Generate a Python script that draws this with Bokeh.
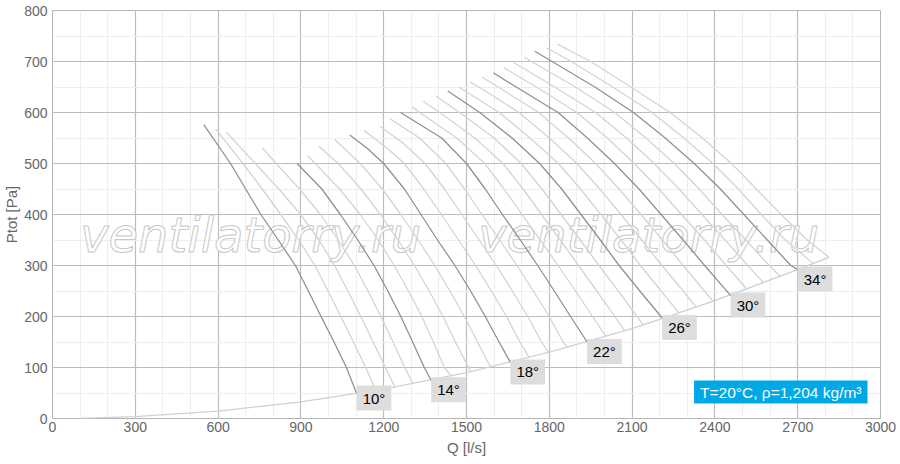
from bokeh.plotting import figure
from bokeh.models import SingleIntervalTicker, Label, ColumnDataSource, Range1d
from bokeh.core.properties import value
from bokeh.embed import file_html
from bokeh.resources import INLINE

# ---- data ----
angles = list(range(10, 37))
labelled_angles = [10, 14, 18, 22, 26, 30, 34]

curve_q = {
    10: [548, 645, 700, 755, 818, 880, 927, 973, 1020, 1065, 1102],
    11: [591, 690, 760, 827, 892, 951, 998, 1045, 1090, 1135, 1172],
    12: [630, 735, 820, 899, 965, 1022, 1070, 1117, 1162, 1206, 1240],
    13: [760, 810, 895, 971, 1035, 1094, 1143, 1190, 1234, 1276, 1306],
    14: [886, 976, 1043, 1106, 1165, 1215, 1262, 1305, 1347, 1372],
    15: [923, 952, 1040, 1115, 1180, 1238, 1290, 1338, 1380, 1420, 1444],
    16: [965, 1035, 1118, 1188, 1252, 1311, 1365, 1415, 1460, 1515],
    17: [1022, 1115, 1195, 1262, 1325, 1385, 1440, 1492, 1540, 1587],
    18: [1077, 1140, 1200, 1275, 1335, 1395, 1458, 1515, 1568, 1618, 1659],
    19: [1128, 1212, 1275, 1345, 1409, 1471, 1533, 1590, 1645, 1693, 1728],
    20: [1186, 1270, 1350, 1420, 1483, 1546, 1608, 1666, 1722, 1772, 1798],
    21: [1222, 1330, 1425, 1493, 1556, 1620, 1683, 1742, 1800, 1850, 1867],
    22: [1261, 1410, 1500, 1568, 1630, 1695, 1758, 1818, 1877, 1937],
    23: [1303, 1330, 1465, 1566, 1636, 1701, 1767, 1832, 1895, 1957, 2005],
    24: [1343, 1403, 1530, 1632, 1705, 1772, 1840, 1906, 1972, 2037, 2073],
    25: [1388, 1475, 1600, 1698, 1773, 1843, 1912, 1980, 2050, 2118, 2141],
    26: [1432, 1548, 1665, 1765, 1845, 1915, 1985, 2053, 2128, 2209],
    27: [1472, 1619, 1730, 1833, 1913, 1987, 2060, 2130, 2205, 2271],
    28: [1512, 1545, 1690, 1800, 1900, 1983, 2060, 2135, 2208, 2285, 2333],
    29: [1557, 1615, 1761, 1870, 1968, 2053, 2132, 2210, 2285, 2362, 2395],
    30: [1597, 1680, 1832, 1938, 2036, 2125, 2205, 2285, 2363, 2457],
    31: [1635, 1753, 1900, 2010, 2108, 2197, 2279, 2362, 2441, 2517],
    32: [1671, 1820, 1968, 2080, 2180, 2270, 2353, 2437, 2519, 2577],
    33: [1710, 1735, 1895, 2037, 2150, 2253, 2343, 2426, 2512, 2597, 2638],
    34: [1747, 1810, 1965, 2105, 2220, 2325, 2420, 2505, 2590, 2675, 2700],
    35: [1789, 1880, 2030, 2172, 2288, 2393, 2485, 2568, 2655, 2756],
    36: [1829, 1950, 2095, 2238, 2355, 2460, 2550, 2640, 2735, 2813],
}
curve_p = {
    10: [576, 500, 450, 400, 350, 300, 250, 200, 150, 100, 49],
    11: [568, 500, 450, 400, 350, 300, 250, 200, 150, 100, 55],
    12: [561, 500, 450, 400, 350, 300, 250, 200, 150, 100, 62],
    13: [531, 500, 450, 400, 350, 300, 250, 200, 150, 100, 68],
    14: [500, 450, 400, 350, 300, 250, 200, 150, 100, 75],
    15: [516, 500, 450, 400, 350, 300, 250, 200, 150, 100, 83],
    16: [534, 500, 450, 400, 350, 300, 250, 200, 150, 92],
    17: [547, 500, 450, 400, 350, 300, 250, 200, 150, 101],
    18: [556, 530, 500, 450, 400, 350, 300, 250, 200, 150, 110],
    19: [565, 530, 500, 450, 400, 350, 300, 250, 200, 150, 119],
    20: [573, 540, 500, 450, 400, 350, 300, 250, 200, 150, 129],
    21: [588, 550, 500, 450, 400, 350, 300, 250, 200, 150, 139],
    22: [600, 550, 500, 450, 400, 350, 300, 250, 200, 150],
    23: [611, 600, 550, 500, 450, 400, 350, 300, 250, 200, 161],
    24: [622, 600, 550, 500, 450, 400, 350, 300, 250, 200, 172],
    25: [633, 600, 550, 500, 450, 400, 350, 300, 250, 200, 183],
    26: [642, 600, 550, 500, 450, 400, 350, 300, 250, 197],
    27: [650, 600, 550, 500, 450, 400, 350, 300, 250, 206],
    28: [660, 650, 600, 550, 500, 450, 400, 350, 300, 250, 218],
    29: [669, 650, 600, 550, 500, 450, 400, 350, 300, 250, 229],
    30: [678, 650, 600, 550, 500, 450, 400, 350, 300, 241],
    31: [688, 650, 600, 550, 500, 450, 400, 350, 300, 253],
    32: [698, 650, 600, 550, 500, 450, 400, 350, 300, 266],
    33: [708, 700, 650, 600, 550, 500, 450, 400, 350, 300, 278],
    34: [720, 700, 650, 600, 550, 500, 450, 400, 350, 300, 292],
    35: [727, 700, 650, 600, 550, 500, 450, 400, 350, 304],
    36: [734, 700, 650, 600, 550, 500, 450, 400, 350, 316],
}

system_q = [100, 300, 600, 900, 1200, 1500, 1800, 2100, 2400, 2700, 2813]
system_p = [0.4, 3.6, 14.4, 32.4, 57.6, 90, 130, 176, 231, 292, 316]

x_tick_step = 300
y_tick_step = 100
info_text = "T=20°C, ρ=1,204 kg/m³"
watermark = "ventilatorry.ru"

FONT = "Liberation Sans"

p = figure(width=900, height=464, x_range=Range1d(0, 3000), y_range=Range1d(0, 800),
           output_backend="svg", toolbar_location=None,
           min_border_left=52, min_border_right=20, min_border_top=10, min_border_bottom=46)
p.background_fill_color = "white"
p.border_fill_color = "white"
p.outline_line_color = "#b5b5b5"
p.outline_line_width = 1

p.xaxis.ticker = SingleIntervalTicker(interval=x_tick_step, num_minor_ticks=3)
p.yaxis.ticker = SingleIntervalTicker(interval=y_tick_step, num_minor_ticks=2)
for g in (p.xgrid, p.ygrid):
    g.grid_line_color = "#bdbdbd"
    g.grid_line_width = 1.2
    g.minor_grid_line_color = "#eeeeee"
    g.minor_grid_line_width = 1
for ax in (p.xaxis, p.yaxis):
    ax.axis_line_color = None
    ax.major_tick_line_color = None
    ax.minor_tick_line_color = None
    ax.major_tick_out = 0
    ax.major_tick_in = 0
    ax.minor_tick_out = 0
    ax.minor_tick_in = 0
    ax.major_label_text_font = FONT
    ax.major_label_text_font_size = "14px"
    ax.major_label_text_color = "#666666"
    ax.axis_label_text_font = FONT
    ax.axis_label_text_font_size = "15px"
    ax.axis_label_text_color = "#666666"
    ax.axis_label_text_font_style = "normal"
p.xaxis.axis_label = "Q [l/s]"
p.yaxis.axis_label = "Ptot [Pa]"
p.xaxis.major_label_standoff = 3
p.yaxis.major_label_standoff = 5
p.xaxis.axis_label_standoff = 4
p.yaxis.axis_label_standoff = 1

# watermark
p.text(x=[718, 2160], y=[359, 359], text=[watermark, watermark],
       text_font=value("DejaVu Sans"), text_font_style="italic", text_font_size="48px",
       text_align="center", text_baseline="middle", text_color="white", text_alpha=1.0,
       text_outline_color="#c8c8c8")

# system curve
p.line(system_q, system_p, line_color="#d0d0d0", line_width=1.3)

# fan curves: light first, dark on top
for a in angles:
    if a not in labelled_angles:
        p.line(curve_q[a], curve_p[a], line_color="#d4d4d4", line_width=1.3,
               line_join="round")
for a in labelled_angles:
    p.line(curve_q[a], curve_p[a], line_color="#919191", line_width=1.3, line_join="round")

lab_src = ColumnDataSource(dict(
    x=[curve_q[a][-1] for a in labelled_angles],
    y=[curve_p[a][-1] for a in labelled_angles],
    t=[f"{a}°" for a in labelled_angles],
    dy=[-8, -3, -3, -3, -3, -3, -3],
))
p.text(x="x", y="y", text="t", source=lab_src, text_font=value(FONT), text_font_size="15px",
       text_color="black", text_align="left", text_baseline="top", x_offset=0, y_offset="dy",
       background_fill_color="#dddddd", padding=dict(x=6, y=4))

p.add_layout(Label(x=2953, y=29.4, text=info_text, text_font=FONT, text_font_size="15.5px",
                   text_color="white", text_align="right", text_baseline="bottom",
                   x_offset=0, y_offset=0, background_fill_color="#00a8e6",
                   padding=dict(x=6, y=3)))

open("out.html", "w").write(file_html(p, INLINE))
